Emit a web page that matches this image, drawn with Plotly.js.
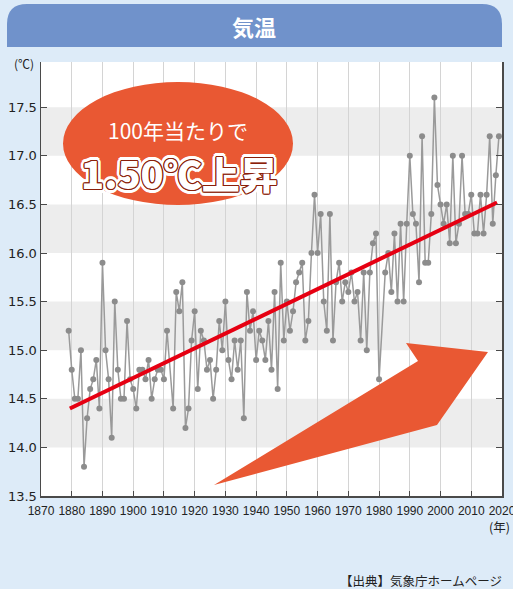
<!DOCTYPE html>
<html>
<head>
<meta charset="utf-8">
<script src="https://cdn.plot.ly/plotly-3.0.1.min.js"></script>
<style>
html,body{margin:0;padding:0;background:#DDEBF8;}
#chart{width:513px;height:589px;}
</style>
</head>
<body>
<div id="chart"></div>
<script>
// ---- data ----
const years = [1879,1880,1881,1882,1883,1884,1885,1886,1887,1888,1889,1890,1891,1892,1893,1894,1895,1896,1897,1898,1899,
1900,1901,1902,1903,1904,1905,1906,1907,1908,1909,1910,1911,1913,1914,1915,1916,1917,1918,1919,
1920,1921,1922,1923,1924,1925,1926,1927,1928,1929,1930,1931,1932,1933,1934,1935,1936,1937,1938,1939,
1940,1941,1942,1943,1944,1945,1946,1947,1948,1949,1950,1951,1952,1953,1954,1955,1956,1957,1958,1959,
1960,1961,1962,1963,1964,1965,1966,1967,1968,1969,1970,1971,1972,1973,1974,1975,1976,1977,1978,1979,
1980,1982,1983,1984,1985,1986,1987,1988,1989,1990,1991,1992,1993,1994,1995,1996,1997,1998,1999,
2000,2001,2002,2003,2004,2005,2006,2007,2008,2009,2010,2011,2012,2013,2014,2015,2016,2017,2018,2019];
const temps = [15.2,14.8,14.5,14.5,15.0,13.8,14.3,14.6,14.7,14.9,14.4,15.9,15.0,14.7,14.1,15.5,14.8,14.5,14.5,15.3,14.7,
14.6,14.4,14.8,14.8,14.7,14.9,14.5,14.7,14.8,14.8,14.7,15.2,14.4,15.6,15.4,15.7,14.2,14.4,15.1,
15.4,14.6,15.2,15.1,14.8,14.9,14.5,14.8,15.3,15.0,15.5,14.9,14.7,15.1,14.8,15.1,14.3,15.6,15.2,15.4,
14.9,15.2,15.1,14.9,15.3,14.8,15.6,14.6,15.9,15.1,15.5,15.2,15.4,15.7,15.8,15.9,15.1,15.3,16.0,16.6,
16.0,16.4,15.5,15.2,16.4,15.1,15.7,15.9,15.5,15.7,15.6,15.8,15.5,15.6,15.1,15.8,15.0,15.8,16.1,16.2,
14.7,15.8,16.0,15.6,16.2,15.5,16.3,15.5,16.3,17.0,16.4,16.3,15.7,17.2,15.9,15.9,16.4,17.6,16.7,
16.5,16.3,16.5,16.1,17.0,16.1,16.3,17.0,16.4,16.4,16.6,16.2,16.2,16.6,16.2,16.6,17.2,16.3,16.8,17.2];
const trendYears = [1879.4, 2018.4];
const trendTemps = [14.40, 16.52];
const xTicks = [1870,1880,1890,1900,1910,1920,1930,1940,1950,1960,1970,1980,1990,2000,2010,2020];
const yTicks = [13.5,14.0,14.5,15.0,15.5,16.0,16.5,17.0,17.5];
const yTickText = yTicks.map(v => v.toFixed(1));
const bandPairs = [[14.0,14.5],[15.0,15.5],[16.0,16.5],[17.0,17.5]];
const titleText = '気温';
const bubbleLine1 = '100年当たりで';
const bubbleLine2 = '1.50℃上昇';
const yUnit = '(℃)';
const xUnit = '(年)';
const sourceText = '【出典】気象庁ホームページ';

// ---- geometry helpers ----
const W = 513, H = 589, ML = 41, MR = 11, MT = 62, MB = 93;
const PW = W - ML - MR, PH = H - MT - MB;
const px = x => (x - ML) / PW;
const py = y => (H - MB - y) / PH;
const P = (x, y) => px(x).toFixed(5) + ',' + py(y).toFixed(5);

const orange = 'rgb(233,88,51)';
const shapes = [];
bandPairs.forEach(b => shapes.push({type:'rect', xref:'paper', yref:'y', x0:0, x1:1, y0:b[0], y1:b[1],
  fillcolor:'#EDEDED', line:{width:0}, layer:'below'}));
// header band
shapes.push({type:'path', xref:'paper', yref:'paper', layer:'above',
  path:`M${P(7,47)} L${P(7,24)} Q${P(7,4)} ${P(27,4)} L${P(482,4)} Q${P(502,4)} ${P(502,24)} L${P(502,47)} Z`,
  fillcolor:'rgb(112,146,203)', line:{width:0}});
// ellipse
shapes.push({type:'circle', xref:'paper', yref:'paper', layer:'above',
  x0:px(63), x1:px(293), y0:py(205), y1:py(82), fillcolor:orange, line:{width:0}});
// arrow
shapes.push({type:'path', xref:'paper', yref:'paper', layer:'above',
  path:`M${P(214,485)} L${P(418,361)} L${P(406,343)} L${P(488,352)} L${P(437,425)} Z`,
  fillcolor:orange, line:{width:0}});

const dark = '#8a1f0a';
const offs = [];
for (let a = 0; a < 360; a += 45) offs.push([Math.cos(a*Math.PI/180), Math.sin(a*Math.PI/180)]);
const offs2 = [];
for (let a = 0; a < 360; a += 22.5) offs2.push([Math.cos(a*Math.PI/180), Math.sin(a*Math.PI/180)]);
const shadow = offs.map(o => `${(o[0]*1.2).toFixed(2)}px ${(o[1]*1.2).toFixed(2)}px 0 ${dark}`)
  .concat(offs2.map(o => `${(o[0]*3.8).toFixed(2)}px ${(o[1]*3.8).toFixed(2)}px 0 #ffffff`)).join(', ');

const cjk = 'Noto Sans CJK JP, Noto Sans, sans-serif';
const annotations = [
  {text:titleText, xref:'paper', yref:'paper', x:px(254), y:py(26), showarrow:false, xanchor:'center', yanchor:'middle',
   font:{family:cjk, size:22, color:'#ffffff', weight:'bold'}},
  {text:yUnit, xref:'paper', yref:'paper', x:px(24), y:py(63), showarrow:false, xanchor:'center', yanchor:'middle',
   font:{family:cjk, size:12, color:'#222'}},
  {text:xUnit, xref:'paper', yref:'paper', x:px(512), y:py(526), showarrow:false, xanchor:'right', yanchor:'middle',
   font:{family:cjk, size:12.5, color:'#222'}},
  {text:sourceText, xref:'paper', yref:'paper', x:px(504), y:py(580), showarrow:false, xanchor:'right', yanchor:'middle',
   font:{family:cjk, size:12.5, color:'#222'}},
  {text:bubbleLine1, xref:'paper', yref:'paper', x:px(178), y:py(130), showarrow:false, xanchor:'center', yanchor:'middle',
   font:{family:cjk, size:21, color:'#ffffff'}},
  {text:bubbleLine2, xref:'paper', yref:'paper', x:px(179), y:py(172), showarrow:false, xanchor:'center', yanchor:'middle',
   font:{family:cjk, size:38, color:'#ffffff', weight:900, shadow:shadow}}
];

const traces = [
  {type:'scatter', mode:'lines+markers', x:years, y:temps,
   line:{color:'#9a9a9a', width:1.5}, marker:{color:'#8c8c8c', size:6}, hoverinfo:'skip'},
  {type:'scatter', mode:'lines', x:trendYears, y:trendTemps,
   line:{color:'#E60012', width:4}, hoverinfo:'skip'}
];

const layout = {
  width:W, height:H, margin:{l:ML, r:MR, t:MT, b:MB, pad:0},
  paper_bgcolor:'#DDEBF8', plot_bgcolor:'#ffffff', showlegend:false,
  xaxis:{range:[1870,2020], tickmode:'array', tickvals:xTicks, ticktext:xTicks.map(String), tickangle:0,
    ticklabeloverflow:'allow', ticklabelstandoff:3,
    showgrid:true, gridcolor:'#D4D4D4', gridwidth:1, zeroline:false,
    showline:true, linecolor:'#4a4a4a', linewidth:1.5, ticks:'inside', ticklen:5, tickcolor:'#4a4a4a', tickwidth:1,
    tickfont:{family:'Liberation Sans, Arial', size:12, color:'#222'}, fixedrange:true},
  yaxis:{range:[13.5,17.965], tickmode:'array', tickvals:yTicks, ticktext:yTickText,
    showgrid:false, zeroline:false, showline:true, mirror:'ticks', linecolor:'#4a4a4a', linewidth:1.5,
    ticks:'inside', ticklen:6, tickcolor:'#4a4a4a', tickwidth:1,
    tickfont:{family:'DejaVu Sans, Liberation Sans', size:13, color:'#222'}, fixedrange:true},
  shapes:shapes, annotations:annotations
};

Plotly.newPlot('chart', traces, layout, {staticPlot:true, displayModeBar:false});
</script>
</body>
</html>
